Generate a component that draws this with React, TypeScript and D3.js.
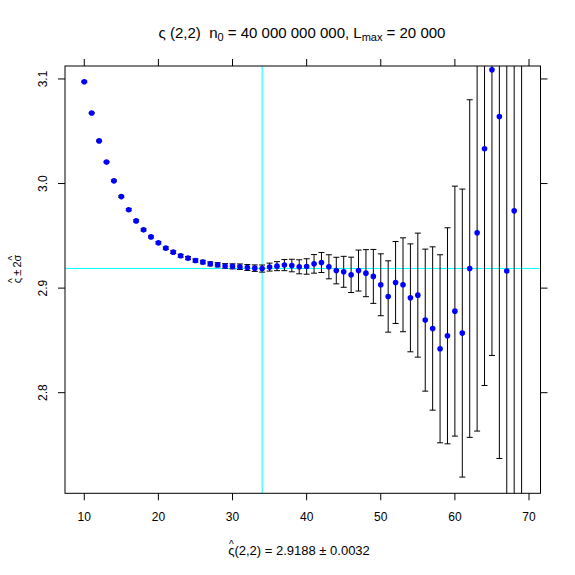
import { useEffect, useRef } from 'react';
import * as d3 from 'd3';

// lag L
const lags = [10, 11, 12, 13, 14, 15, 16, 17, 18, 19, 20, 21, 22, 23, 24, 25, 26, 27, 28, 29,
  30, 31, 32, 33, 34, 35, 36, 37, 38, 39, 40, 41, 42, 43, 44, 45, 46, 47, 48, 49,
  50, 51, 52, 53, 54, 55, 56, 57, 58, 59, 60, 61, 62, 63, 64, 65, 66, 67, 68, 69];

// estimates
const estimates = [3.0974, 3.0674, 3.0408, 3.0205, 3.0026, 2.9875, 2.9750, 2.9643, 2.9557, 2.9490,
  2.9433, 2.9382, 2.9344, 2.9309, 2.9287, 2.9264, 2.9249, 2.9232, 2.9223, 2.9212,
  2.9208, 2.9205, 2.9197, 2.9191, 2.9187, 2.9201, 2.9210, 2.9220, 2.9216, 2.9204,
  2.9207, 2.9232, 2.9245, 2.9204, 2.9168, 2.9156, 2.9127, 2.9168, 2.9143, 2.9112,
  2.9032, 2.8920, 2.9054, 2.9032, 2.8907, 2.8933, 2.8694, 2.8614, 2.8420, 2.8544,
  2.8780, 2.8570, 2.9187, 2.9529, 3.0332, 3.1087, 3.0641, 2.9163, 2.9739, 3.1800];

// 2 sigma
const twoSigma = [0.0006, 0.0006, 0.0007, 0.0007, 0.0008, 0.0008, 0.0009, 0.0009, 0.0010, 0.0010,
  0.0011, 0.0012, 0.0013, 0.0014, 0.0015, 0.0016, 0.0017, 0.0019, 0.0020, 0.0022,
  0.0024, 0.0026, 0.0028, 0.0031, 0.0034, 0.0038, 0.0043, 0.0053, 0.0060, 0.0067,
  0.0074, 0.0089, 0.0096, 0.0115, 0.0127, 0.0148, 0.0169, 0.0196, 0.0225, 0.0258,
  0.0296, 0.0341, 0.0392, 0.0449, 0.0516, 0.0593, 0.0679, 0.0781, 0.0899, 0.1033,
  0.1195, 0.1377, 0.1614, 0.1896, 0.2263, 0.2731, 0.3270, 0.3800, 0.4500, 0.5300];

const xTicks = [10, 20, 30, 40, 50, 60, 70];
const yTicks = [2.8, 2.9, 3.0, 3.1];
const bestLag = 34;
const bestValue = 2.9188;

export default function App() {
  const svgRef = useRef<SVGSVGElement>(null);

  useEffect(() => {
    if (!svgRef.current) return;
    const width = 575;
    const height = 575;
    const left = 65, right = 540.5, top = 66, bottom = 493.3;
    const font = 'Liberation Sans, Arial, Helvetica, sans-serif';

    const svg = d3.select(svgRef.current);
    svg.selectAll('*').remove();
    svg.attr('width', width).attr('height', height);

    const x = d3.scaleLinear().domain([7.40, 71.55]).range([left, right]);
    const y = d3.scaleLinear().domain([2.7038, 3.1124]).range([bottom, top]);

    svg.append('defs').append('clipPath').attr('id', 'panel')
      .append('rect')
      .attr('x', left).attr('y', top)
      .attr('width', right - left).attr('height', bottom - top);

    const points = lags.map((l, i) => ({ l, v: estimates[i], e: twoSigma[i] }));

    const panel = svg.append('g').attr('clip-path', 'url(#panel)');

    // reference lines
    panel.append('line')
      .attr('x1', left).attr('x2', right)
      .attr('y1', y(bestValue)).attr('y2', y(bestValue))
      .attr('stroke', '#00ffff').attr('stroke-width', 1);
    panel.append('line')
      .attr('x1', x(bestLag)).attr('x2', x(bestLag))
      .attr('y1', top).attr('y2', bottom)
      .attr('stroke', '#00ffff').attr('stroke-width', 1);

    // error bars
    const bars = panel.selectAll('.bar').data(points).enter().append('g').attr('class', 'bar')
      .attr('stroke', '#000').attr('stroke-width', 1);
    bars.append('line')
      .attr('x1', d => x(d.l)).attr('x2', d => x(d.l))
      .attr('y1', d => y(d.v - d.e)).attr('y2', d => y(d.v + d.e));
    bars.append('line')
      .attr('x1', d => x(d.l) - 3).attr('x2', d => x(d.l) + 3)
      .attr('y1', d => y(d.v - d.e)).attr('y2', d => y(d.v - d.e));
    bars.append('line')
      .attr('x1', d => x(d.l) - 3).attr('x2', d => x(d.l) + 3)
      .attr('y1', d => y(d.v + d.e)).attr('y2', d => y(d.v + d.e));

    // points
    panel.selectAll('.pt').data(points).enter().append('circle').attr('class', 'pt')
      .attr('cx', d => x(d.l)).attr('cy', d => y(d.v))
      .attr('r', 2.8).attr('fill', '#0000ff');

    // box
    svg.append('rect')
      .attr('x', left).attr('y', top)
      .attr('width', right - left).attr('height', bottom - top)
      .attr('fill', 'none').attr('stroke', '#000').attr('stroke-width', 1);

    // ticks
    const tl = 7;
    xTicks.forEach(t => {
      svg.append('line').attr('x1', x(t)).attr('x2', x(t)).attr('y1', bottom).attr('y2', bottom + tl).attr('stroke', '#000');
      svg.append('line').attr('x1', x(t)).attr('x2', x(t)).attr('y1', top).attr('y2', top - tl).attr('stroke', '#000');
      svg.append('text').attr('x', x(t)).attr('y', 521)
        .attr('text-anchor', 'middle').attr('font-family', font).attr('font-size', 12)
        .text(t);
    });
    yTicks.forEach(t => {
      svg.append('line').attr('x1', left).attr('x2', left - tl).attr('y1', y(t)).attr('y2', y(t)).attr('stroke', '#000');
      svg.append('line').attr('x1', right).attr('x2', right + tl).attr('y1', y(t)).attr('y2', y(t)).attr('stroke', '#000');
      svg.append('text')
        .attr('transform', `translate(47,${y(t)}) rotate(-90)`)
        .attr('text-anchor', 'middle').attr('font-family', font).attr('font-size', 12)
        .text(d3.format('.1f')(t));
    });

    // title
    const title = svg.append('text').attr('x', 302).attr('y', 38)
      .attr('text-anchor', 'middle').attr('font-family', font).attr('font-size', 15)
      .style('white-space', 'pre');
    title.append('tspan').text('ς (2,2)\u00a0\u00a0n');
    title.append('tspan').attr('font-size', 11).attr('dy', 3).text('0');
    title.append('tspan').attr('dy', -3).text(' = 40 000 000 000, L');
    title.append('tspan').attr('font-size', 11).attr('dy', 3).text('max');
    title.append('tspan').attr('dy', -3).text(' = 20 000');

    // x label
    const xl = svg.append('text').attr('x', 299).attr('y', 555)
      .attr('text-anchor', 'middle').attr('font-family', font).attr('font-size', 13)
      .text('ς(2,2) = 2.9188 ± 0.0032');
    const c0 = (xl.node() as SVGTextElement).getExtentOfChar(0);
    svg.append('text').attr('x', c0.x + c0.width / 2).attr('y', 548)
      .attr('text-anchor', 'middle').attr('font-family', font).attr('font-size', 10)
      .text('^');

    // y label
    const yg = svg.append('g').attr('transform', 'translate(21,269) rotate(-90)');
    const yl = yg.append('text').attr('x', 0).attr('y', 0)
      .attr('text-anchor', 'middle').attr('font-family', font).attr('font-size', 11)
      .text('ς\u2009±\u20092σ');
    const yn = yl.node() as SVGTextElement;
    [0, yn.getNumberOfChars() - 1].forEach(i => {
      const c = yn.getExtentOfChar(i);
      yg.append('text').attr('x', c.x + c.width / 2).attr('y', -5)
        .attr('text-anchor', 'middle').attr('font-family', font).attr('font-size', 10)
        .text('^');
    });
  }, []);

  return <svg ref={svgRef} style={{ position: 'absolute', left: 0, top: 0, background: '#fff' }} />;
}
